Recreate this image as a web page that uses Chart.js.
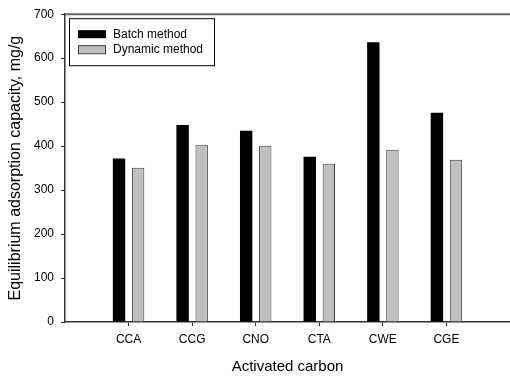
<!DOCTYPE html>
<html>
<head>
<meta charset="utf-8">
<script src="https://cdn.jsdelivr.net/npm/chart.js@4"></script>
<style>
  html, body { margin: 0; padding: 0; background: #fff; }
  canvas { display: block; }
</style>
</head>
<body>
<canvas id="c" width="510" height="376"></canvas>
<script>
const categories = ['CCA', 'CCG', 'CNO', 'CTA', 'CWE', 'CGE'];
const batchValues = [372, 448, 435, 376, 636, 476];
const dynamicValues = [351, 403, 401, 360, 392, 369];
const yTicks = [0, 100, 200, 300, 400, 500, 600, 700];
const seriesNames = ['Batch method', 'Dynamic method'];

// pad with empty slots at both ends so categories sit at 1..6 on a 0..7 axis
const labels = [''].concat(categories, ['']);
const pad = arr => [null].concat(arr, [null]);

const FONT = "'Liberation Sans', Arial, sans-serif";

const frameAndLegend = {
  id: 'frameAndLegend',
  afterDraw(chart) {
    const { ctx, chartArea: a } = chart;
    ctx.save();
    // top frame line
    ctx.strokeStyle = '#666';
    ctx.lineWidth = 2;
    ctx.beginPath();
    ctx.moveTo(a.left, a.top);
    ctx.lineTo(a.right, a.top);
    ctx.stroke();
    // legend box
    const x = a.left + 4, y = a.top + 4, w = 145, h = 47;
    ctx.fillStyle = '#fff';
    ctx.fillRect(x, y, w, h);
    ctx.strokeStyle = '#000';
    ctx.lineWidth = 1;
    ctx.strokeRect(x + 0.5, y + 0.5, w, h);
    chart.data.datasets.forEach((ds, i) => {
      const cy = y + 16 + i * 15;
      const sx = x + 9, sw = 28, sh = 8;
      ctx.fillStyle = ds.backgroundColor;
      ctx.fillRect(sx, cy - sh / 2, sw, sh);
      if (ds.borderWidth) {
        ctx.strokeStyle = ds.borderColor;
        ctx.lineWidth = 1;
        ctx.strokeRect(sx + 0.5, cy - sh / 2 + 0.5, sw - 1, sh);
      }
      ctx.fillStyle = '#000';
      ctx.font = '12px ' + FONT;
      ctx.textBaseline = 'middle';
      ctx.textAlign = 'left';
      ctx.fillText(ds.label, x + 44, cy);
    });
    ctx.restore();
  }
};

new Chart(document.getElementById('c'), {
  type: 'bar',
  data: {
    labels: labels,
    datasets: [
      {
        label: seriesNames[0],
        data: pad(batchValues),
        backgroundColor: '#000000',
        borderWidth: 0,
        categoryPercentage: 0.6,
        barPercentage: 0.65
      },
      {
        label: seriesNames[1],
        data: pad(dynamicValues),
        backgroundColor: '#c0c0c0',
        borderColor: '#404040',
        borderWidth: 1,
        categoryPercentage: 0.6,
        barPercentage: 0.65
      }
    ]
  },
  options: {
    responsive: false,
    animation: false,
    layout: { padding: { top: 10, right: 0, left: 0, bottom: 0 } },
    plugins: {
      legend: { display: false },
      tooltip: { enabled: false }
    },
    scales: {
      x: {
        offset: false,
        grid: {
          display: true,
          offset: false,
          drawOnChartArea: false,
          drawTicks: true,
          tickLength: 4,
          tickColor: ctx => (ctx.index === 0 || ctx.index === labels.length - 1) ? 'rgba(0,0,0,0)' : '#333'
        },
        border: { display: true, color: '#333', width: 1.5 },
        ticks: {
          color: '#000',
          font: { family: FONT, size: 12 },
          padding: 6,
          maxRotation: 0,
          autoSkip: false
        },
        title: {
          display: true,
          text: 'Activated carbon',
          color: '#000',
          font: { family: FONT, size: 15 },
          padding: { top: 0, bottom: 0 }
        },
        afterFit(scale) {
          scale.height = 54;
          scale.paddingLeft = 0;
          scale.paddingRight = 0;
        }
      },
      y: {
        min: 0,
        max: 700,
        afterBuildTicks(scale) { scale.ticks = yTicks.map(v => ({ value: v })); },
        grid: {
          display: true,
          drawOnChartArea: false,
          drawTicks: true,
          tickLength: 4,
          tickColor: '#333'
        },
        border: { display: true, color: '#333', width: 1.5 },
        ticks: {
          color: '#000',
          font: { family: FONT, size: 12 },
          padding: 7
        },
        title: {
          display: true,
          text: 'Equilibrium adsorption capacity, mg/g',
          color: '#000',
          font: { family: FONT, size: 16 },
          padding: { top: 6, bottom: 0 }
        },
        afterFit(scale) { scale.width = 65; }
      }
    }
  },
  plugins: [frameAndLegend]
});
</script>
</body>
</html>
